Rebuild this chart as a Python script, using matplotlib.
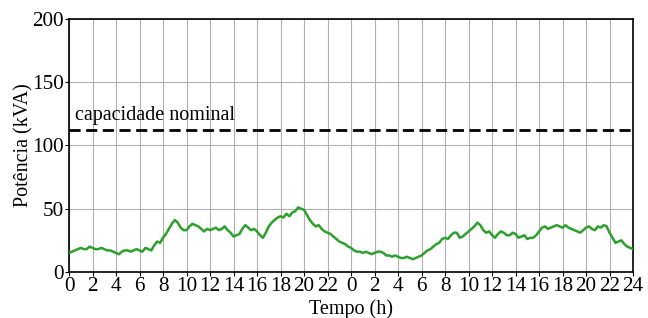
import numpy as np
import matplotlib
matplotlib.use("Agg")
import matplotlib.pyplot as plt

plt.rcParams['font.family'] = ['Liberation Serif', 'DejaVu Serif']
plt.rcParams['mathtext.fontset'] = 'stix'

# time in hours over two days (0.25 h steps)
hours = np.arange(0, 48.001, 0.25)
power = [15, 16, 17, 18, 19, 18, 18, 20, 19, 18, 18, 19, 18, 17, 17, 16,
         15, 14, 16, 17, 17, 16, 17, 18, 17, 16, 19, 18, 17, 21, 24, 23,
         27, 30, 34, 38, 41, 39, 35, 33, 33, 36, 38, 37, 36, 34, 32, 34,
         33, 34, 35, 33, 34, 36, 33, 31, 28, 29, 30, 34, 37, 35, 33, 34,
         32, 29, 27, 31, 36, 39, 41, 43, 44, 43, 46, 44, 47, 48, 51, 50,
         49, 45, 41, 38, 36, 37, 34, 32, 31, 30, 28, 26, 24, 23, 22, 20,
         19, 17, 16, 16, 15, 16, 15, 14, 15, 16, 16, 15, 13, 13, 12, 13,
         12, 11, 11, 12, 11, 10, 11, 12, 13, 15, 17, 18, 20, 22, 23, 26,
         27, 26, 29, 31, 31, 27, 28, 30, 32, 34, 36, 39, 37, 33, 31, 32,
         29, 27, 30, 32, 31, 29, 29, 31, 30, 27, 28, 29, 26, 27, 27, 29,
         32, 35, 36, 34, 35, 36, 37, 36, 35, 37, 35, 34, 33, 32, 31, 33,
         35, 36, 34, 33, 36, 35, 37, 36, 31, 27, 23, 24, 25, 22, 20, 19, 18]
capacity = 112.5
tick_pos = list(range(0, 49, 2))
tick_labels = [str(v % 24) for v in range(0, 48, 2)] + ["24"]

fig = plt.figure(figsize=(6.48, 3.18), dpi=100)
ax = fig.add_axes([0.1065, 0.145, 0.8705, 0.795])
ax.plot(hours, power, color='#2ca02c', lw=1.8, zorder=3)
ax.axhline(capacity, color='black', ls=(0, (4, 2)), lw=2, zorder=3)
ax.text(0.5, capacity + 4, 'capacidade nominal', fontsize=14.5, ha='left', va='bottom')

ax.set_xlim(0, 48)
ax.set_ylim(0, 200)
ax.set_xticks(tick_pos)
ax.set_xticklabels(tick_labels)
ax.set_yticks([0, 50, 100, 150, 200])
ax.tick_params(labelsize=15.2, length=3, pad=1)
ax.grid(True, color='#b0b0b0', lw=0.8)
ax.set_axisbelow(True)
ax.set_xlabel('Tempo (h)', fontsize=14.5, labelpad=2)
ax.set_ylabel('Potência (kVA)', fontsize=14.5, labelpad=-1)
for s in ax.spines.values():
    s.set_linewidth(1.2)

fig.savefig('out.png', dpi=100)
